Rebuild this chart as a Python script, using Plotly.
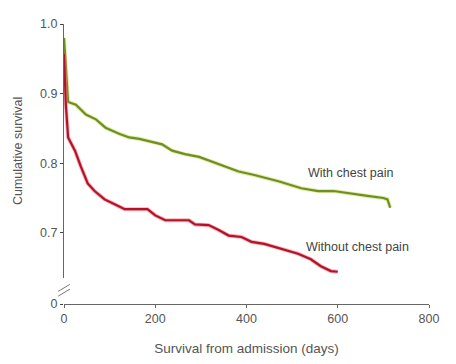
import plotly.graph_objects as go

# Survival data
with_days = [0, 4, 9, 26, 48, 70, 91, 122, 143, 165, 193, 215, 237, 265, 296, 324, 352,
             383, 417, 470, 520, 557, 591, 628, 665, 700, 709, 715]
with_surv = [0.980, 0.940, 0.888, 0.884, 0.870, 0.863, 0.851, 0.842, 0.837, 0.835, 0.830,
             0.827, 0.818, 0.813, 0.809, 0.802, 0.795, 0.788, 0.783, 0.774, 0.764, 0.760,
             0.760, 0.756, 0.753, 0.750, 0.748, 0.736]

without_days = [0, 4, 9, 13, 24, 37, 52, 67, 89, 111, 133, 183, 200, 222, 274, 287, 317,
                339, 361, 389, 411, 439, 461, 483, 513, 541, 563, 585, 600]
without_surv = [0.957, 0.884, 0.837, 0.832, 0.818, 0.795, 0.771, 0.760, 0.748, 0.741, 0.734,
                0.734, 0.725, 0.718, 0.718, 0.712, 0.711, 0.704, 0.696, 0.694, 0.687, 0.684,
                0.680, 0.676, 0.670, 0.662, 0.652, 0.645, 0.644]

x_ticks = [0, 200, 400, 600, 800]
y_ticks = [0.7, 0.8, 0.9, 1.0]
y_tick_text = ["0.7", "0.8", "0.9", "1.0"]

GREEN = "#6f8f22"
GREEN_HALO = "#cfe070"
RED = "#b3122b"
RED_HALO = "#f0808c"
TXT = "#555555"
FONT = "Liberation Sans, Arial, sans-serif"

fig = go.Figure()
for xs, ys, halo, core in [(with_days, with_surv, GREEN_HALO, GREEN),
                           (without_days, without_surv, RED_HALO, RED)]:
    fig.add_trace(go.Scatter(x=xs, y=ys, mode="lines", line=dict(color=halo, width=4),
                             opacity=0.6, hoverinfo="skip", showlegend=False))
    fig.add_trace(go.Scatter(x=xs, y=ys, mode="lines", line=dict(color=core, width=2.2),
                             showlegend=False))

# invisible trace on the lower (broken) axis segment
fig.add_trace(go.Scatter(x=[0], y=[0], yaxis="y2", mode="markers",
                         marker=dict(opacity=0), hoverinfo="skip", showlegend=False))

fig.add_annotation(x=628, y=0.7854, text="With chest pain", showarrow=False,
                   font=dict(size=12.5, color="#444444", family=FONT))
fig.add_annotation(x=644, y=0.680, text="Without chest pain", showarrow=False,
                   font=dict(size=12.5, color="#444444", family=FONT))

# axis break marks
for y0 in (0.045, 0.028):
    fig.add_shape(type="line", xref="paper", yref="paper",
                  x0=-0.016, y0=y0, x1=0.016, y1=y0 + 0.025,
                  line=dict(color="#777777", width=1))

# page body has an 8px default margin, so the figure is shrunk by that amount
fig.update_layout(
    width=448, height=356,
    margin=dict(l=53, r=27, t=9, b=60),
    paper_bgcolor="white", plot_bgcolor="white",
    font=dict(family=FONT, color=TXT, size=12.5),
    xaxis=dict(range=[0, 800], tickvals=x_ticks, showgrid=False, zeroline=False,
               showline=True, linecolor="#666666", linewidth=1,
               ticks="outside", ticklen=3, tickcolor="#666666",
               anchor="y2",
               title=dict(text="Survival from admission (days)", font=dict(size=13.5), standoff=18)),
    yaxis=dict(domain=[0.094, 1.0], range=[0.6355, 1.0], tickvals=y_ticks, ticktext=y_tick_text,
               showgrid=False, zeroline=False, showline=True, linecolor="#666666", linewidth=1,
               ticks="outside", ticklen=3, tickcolor="#444444",
               title=dict(text="Cumulative survival", font=dict(size=12.5), standoff=14)),
    yaxis2=dict(domain=[0.0, 0.02], range=[0, 0.01], tickvals=[0], ticktext=["0"],
                showgrid=False, zeroline=False, showline=False,
                ticks="outside", ticklen=3, tickcolor="#444444", anchor="x"),
)

fig.write_html("out.html")
